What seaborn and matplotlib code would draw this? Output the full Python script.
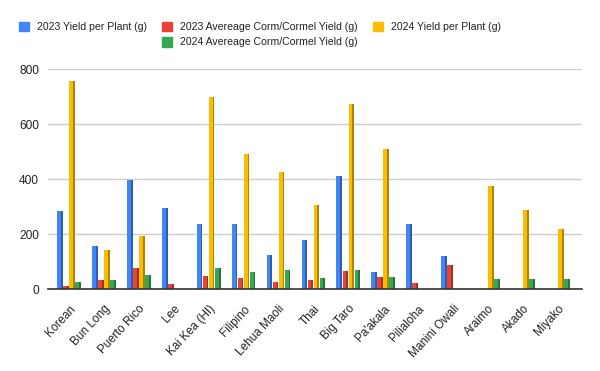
import numpy as np
import pandas as pd
import matplotlib
matplotlib.use("Agg")
import matplotlib.pyplot as plt
from matplotlib.patches import Patch, Rectangle
from matplotlib.colors import to_rgb
import seaborn as sns

sns.set_theme(style="white")
plt.rcParams['font.family'] = ['Liberation Sans', 'DejaVu Sans']

variedades = ["Korean", "Bun Long", "Puerto Rico", "Lee", "Kai Kea (HI)", "Filipino",
              "Lehua Maoli", "Thai", "Big Taro", "Pa'akala", "Pilialoha", "Manini Owali",
              "Araimo", "Akado", "Miyako"]
series = ["2023 Yield per Plant (g)", "2023 Avereage Corm/Cormel Yield (g)",
          "2024 Yield per Plant (g)", "2024 Avereage Corm/Cormel Yield (g)"]
cores = ["#4285F4", "#EA4335", "#FBBC04", "#34A853"]

rend_2023 = [285, 158, 398, 293, 238, 238, 125, 179, 410, 61, 235, 119, None, None, None]
corm_2023 = [12, 32, 75, 17, 48, 39, 27, 32, 64, 42, 21, 86, None, None, None]
rend_2024 = [758, 143, 194, None, 700, 492, 424, 304, 672, 509, None, None, 373, 286, 217]
corm_2024 = [24, 32, 52, None, 78, 61, 68, 41, 68, 42, None, None, 35, 35, 35]

valores = [rend_2023, corm_2023, rend_2024, corm_2024]
linhas = []
for nome, vals in zip(series, valores):
    for v, val in zip(variedades, vals):
        if val is not None:
            linhas.append({"Variedade": v, "Serie": nome, "Valor": val})
df = pd.DataFrame(linhas)

fig = plt.figure(figsize=(6, 3.71), dpi=100)
ax = fig.add_axes([0.08, 0.221, 0.89, 0.593])

sns.barplot(data=df, x="Variedade", y="Valor", hue="Serie", order=variedades,
            hue_order=series, palette=cores, width=0.69, gap=0.06,
            saturation=1, legend=False, ax=ax, linewidth=0)

# lateral mais escura para imitar o efeito 3D
for barra in list(ax.patches):
    h = barra.get_height()
    if not np.isfinite(h) or h <= 0:
        continue
    cor = np.array(to_rgb(barra.get_facecolor())) * 0.7
    w = barra.get_width()
    ax.add_patch(Rectangle((barra.get_x() + w * 0.68, 0), w * 0.32, h,
                           facecolor=cor, linewidth=0, zorder=barra.get_zorder() + 0.1))

ax.set_ylim(0, 800)
ax.set_yticks([0, 200, 400, 600, 800])
ax.yaxis.grid(True, color="#cccccc", linewidth=1)
ax.set_axisbelow(True)
for lado in ["left", "right", "top"]:
    ax.spines[lado].set_visible(False)
ax.spines["bottom"].set_color("#333333")
ax.spines["bottom"].set_linewidth(1.2)
ax.set_xlabel("")
ax.set_ylabel("")
ax.tick_params(axis="y", length=0, labelsize=8.6, colors="#222222", pad=6.5)
ax.tick_params(axis="x", length=0, labelsize=8.5, colors="#222222", pad=10)
plt.setp(ax.get_xticklabels(), rotation=47, ha="right", rotation_mode="anchor")
ax.set_xlim(-0.6, len(variedades) - 0.31)

vazio = Patch(visible=False)
alcas = [Patch(color=cores[0]), vazio, Patch(color=cores[1]), Patch(color=cores[3]),
         Patch(color=cores[2]), vazio]
rotulos = [series[0], "", series[1], series[3], series[2], ""]
fig.legend(alcas, rotulos, loc="upper left", bbox_to_anchor=(0.031, 0.942), ncol=3,
           frameon=False, fontsize=7.6, handlelength=1.0, handleheight=1.0,
           handletextpad=0.75, columnspacing=1.4, labelspacing=0.5,
           borderpad=0, borderaxespad=0, labelcolor="#222222")

fig.savefig("out.png", dpi=100)
